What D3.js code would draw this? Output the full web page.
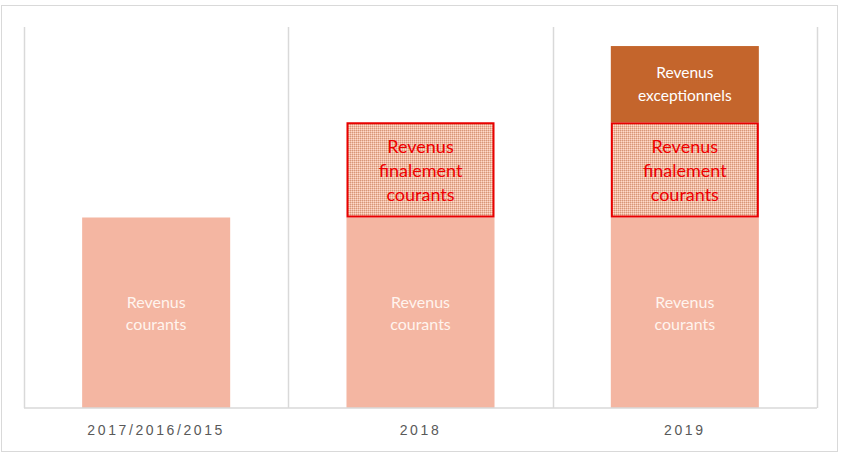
<!DOCTYPE html>
<html>
<head>
<meta charset="utf-8">
<script src="https://cdn.jsdelivr.net/npm/d3@7"></script>
<style>
    body { margin: 0; background: #fff; }
    svg { display: block; font-family: Lato, "Liberation Sans", sans-serif; }
</style>
</head>
<body>
<svg id="chart"></svg>
<script>
const categories = ['2017/2016/2015', '2018', '2019'];
const courants = [100, 100, 100];
const finalement = [0, 50, 50];
const exceptionnels = [0, 0, 40];

const width = 841, height = 456;
const plot = { left: 24, right: 817, top: 27, bottom: 408 };

const svg = d3.select('#chart')
    .attr('width', width)
    .attr('height', height);

// dotted fill for the "finalement courants" boxes
const defs = svg.append('defs');
const pat = defs.append('pattern')
    .attr('id', 'dots')
    .attr('width', 2).attr('height', 2)
    .attr('patternUnits', 'userSpaceOnUse');
pat.append('rect').attr('width', 2).attr('height', 2).attr('fill', '#F2B9A1');
pat.append('rect').attr('width', 1).attr('height', 1).attr('fill', '#D4987A');
pat.append('rect').attr('x', 1).attr('y', 1).attr('width', 1).attr('height', 1).attr('fill', '#FADCCD');

// outer frame
svg.append('rect')
    .attr('x', 1.5).attr('y', 5.5)
    .attr('width', 836).attr('height', 446)
    .attr('fill', 'none')
    .attr('stroke', '#D9D9D9');

const x = d3.scaleBand()
    .domain(categories)
    .range([plot.left, plot.right])
    .paddingInner(0.44)
    .paddingOuter(0.22);

const y = d3.scaleLinear()
    .domain([0, 200])
    .range([plot.bottom, plot.top]);

// vertical separators at category boundaries
const bounds = categories.map(c => x(c) - x.step() * 0.22).concat([plot.right]);
svg.append('g')
    .selectAll('line')
    .data(bounds)
    .join('line')
    .attr('x1', d => Math.round(d) + 0.5)
    .attr('x2', d => Math.round(d) + 0.5)
    .attr('y1', y(200))
    .attr('y2', y(0))
    .attr('stroke', '#D9D9D9')
    .attr('stroke-width', 1.5);

const data = categories.map((c, i) => ({
    cat: c,
    courants: courants[i],
    finalement: finalement[i],
    exceptionnels: exceptionnels[i]
}));

const stack = d3.stack().keys(['courants', 'finalement', 'exceptionnels'])(data);

const styles = {
    courants: { fill: '#F4B6A2', stroke: 'none', text: '#FFF4EE', size: 16, lines: ['Revenus', 'courants'], lh: 22, off: 1 },
    finalement: { fill: 'url(#dots)', stroke: '#E80000', text: '#EE0000', size: 18, lines: ['Revenus', 'finalement', 'courants'], lh: 24, off: 1 },
    exceptionnels: { fill: '#C4652C', stroke: 'none', text: '#FFFFFF', size: 15.5, lines: ['Revenus', 'exceptionnels'], lh: 23, off: 0 }
};

stack.forEach(layer => {
    const st = styles[layer.key];
    const g = svg.append('g');
    const segs = layer.filter(d => d[1] - d[0] > 0);
    const inset = st.stroke === 'none' ? 0 : 1;

    g.selectAll('rect')
        .data(segs)
        .join('rect')
        .attr('x', d => x(d.data.cat) + inset)
        .attr('y', d => y(d[1]) + inset)
        .attr('width', d => x.bandwidth() - 2 * inset)
        .attr('height', d => y(d[0]) - y(d[1]) - 2 * inset)
        .attr('fill', st.fill)
        .attr('stroke', st.stroke)
        .attr('stroke-width', 2);

    g.selectAll('text')
        .data(segs)
        .join('text')
        .attr('x', d => x(d.data.cat) + x.bandwidth() / 2)
        .attr('y', d => (y(d[0]) + y(d[1])) / 2 + st.off)
        .attr('text-anchor', 'middle')
        .attr('fill', st.text)
        .attr('font-size', st.size)
        .selectAll('tspan')
        .data(st.lines)
        .join('tspan')
        .attr('x', function() { return this.parentNode.getAttribute('x'); })
        .attr('dy', (l, i) => i === 0 ? (-(st.lines.length - 1) / 2 * st.lh + st.size * 0.35) : st.lh)
        .text(l => l);
});

// baseline and category labels
const xAxis = d3.axisBottom(x).tickSize(0).tickPadding(17);
const axisG = svg.append('g')
    .attr('transform', `translate(0,${plot.bottom})`)
    .call(xAxis);
axisG.select('.domain')
    .attr('stroke', '#D9D9D9')
    .attr('stroke-width', 1.5)
    .attr('d', `M${plot.left},0H${plot.right}`);
axisG.selectAll('text')
    .attr('fill', '#595959')
    .attr('font-size', 14)
    .attr('letter-spacing', '2.6px')
    .attr('font-family', '"Liberation Sans", sans-serif');
</script>
</body>
</html>
